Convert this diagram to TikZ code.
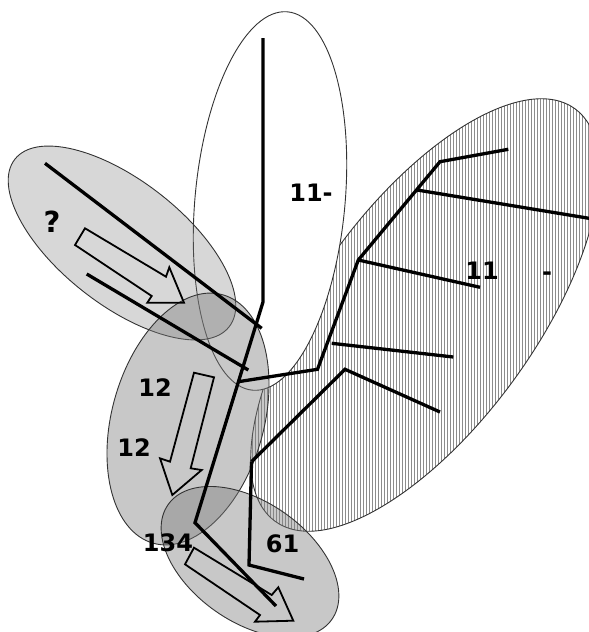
\documentclass[tikz,border=0pt]{standalone}
\usepackage{fontspec}
\setmainfont{DejaVu Sans}
\usetikzlibrary{patterns.meta, positioning}
\definecolor{shadeGray}{HTML}{7C7C7C}
\definecolor{hatchGray}{HTML}{8C8C8C}
\definecolor{rimGray}{HTML}{333333}

\begin{document}
\begin{tikzpicture}[
    x=1pt, y=-1pt,
    blob/.style={draw=rimGray, line width=0.9pt},
    shaded/.style={blob, fill=shadeGray, fill opacity=0.42},
    trail/.style={line width=3.3pt, black},
    hollow/.style={line width=1.8pt, black, line join=miter},
    tag/.style={font=\fontsize{24}{28}\selectfont\bfseries, inner sep=0pt}
  ]
  \clip (0,0) rectangle (589,632);

  % regions
  \draw[blob, pattern={Lines[angle=90, distance=3pt, line width=0.9pt]}, pattern color=hatchGray,
        rotate around={54:(425,315)}] (425,315) ellipse [x radius=255, y radius=110];
  \draw[blob, fill=white, rotate around={-5.3:(270,201)}] (270,201) ellipse [x radius=75, y radius=190];
  \draw[shaded, fill opacity=0.3, rotate around={-38:(122,243)}] (122,243) ellipse [x radius=136, y radius=62];
  \draw[shaded, rotate around={-15.6:(188,419)}] (188,419) ellipse [x radius=76, y radius=129];
  \draw[shaded, rotate around={-35:(250,562)}] (250,562) ellipse [x radius=100, y radius=60];

  % points of the lines
  \coordinate (stemTop) at (263,38);
  \coordinate (stemBend) at (263,302);
  \coordinate (trunkKnee) at (195,522.7);
  \coordinate (trunkEnd) at (276,606);
  \coordinate (askA) at (45,163.3);
  \coordinate (askAend) at (261.7,328.3);
  \coordinate (askB) at (86.7,274);
  \coordinate (askBend) at (248.3,370);
  \coordinate (spurStart) at (238.3,381.7);
  \coordinate (spurBend) at (317.5,369.3);
  \coordinate (ridgeLow) at (358.3,260);
  \coordinate (ridgeMid) at (417,190);
  \coordinate (ridgeTop) at (440,161.7);
  \coordinate (ridgeEnd) at (508.3,149.3);
  \coordinate (forkA) at (331.7,343.3);
  \coordinate (forkAend) at (453.3,357);
  \coordinate (forkBend) at (480,287.3);
  \coordinate (forkCend) at (589,218.3);
  \coordinate (hookStart) at (251.5,461.7);
  \coordinate (hookTop) at (345,369.3);
  \coordinate (hookEnd) at (440,412);
  \coordinate (dropEnd) at (249,565);
  \coordinate (dropTail) at (304,579);

  % lines
  \draw[trail] (stemTop) -- (stemBend) -- (trunkKnee) -- (trunkEnd);
  \draw[trail] (askA) -- (askAend);
  \draw[trail] (askB) -- (askBend);
  \draw[trail] (spurStart) -- (spurBend) -- (ridgeLow) -- (ridgeTop) -- (ridgeEnd);
  \draw[trail] (ridgeMid) -- (forkCend);
  \draw[trail] (ridgeLow) -- (forkBend);
  \draw[trail] (forkA) -- (forkAend);
  \draw[trail] (hookStart) -- (hookTop) -- (hookEnd);
  \draw[trail] (hookStart) -- (dropEnd) -- (dropTail);

  % block arrows
  \draw[hollow] (85,228.3) -- (166,276.7) -- (169.3,267.3) -- (184,302.7)
    -- (147.3,302.7) -- (151.7,296) -- (75,245) -- cycle;
  \draw[hollow] (194,372.7) -- (214,377.3) -- (190.7,468.3) -- (201.7,470)
    -- (172.3,495) -- (160,458.3) -- (170,461.7) -- cycle;
  \draw[hollow] (194,547.7) -- (271.7,595) -- (278.3,587.3) -- (293.3,620.7)
    -- (255,621.7) -- (260,615) -- (185,564.3) -- cycle;

  % labels
  \node[tag, font=\fontsize{29}{32}\selectfont\bfseries] (ask) at (52,222) {?};
  \node[tag] (upper) at (311,193) {11-};
  \node[tag] (side) at (482,271) {11};
  \node[tag, anchor=base] (dash) at (547,280.5) {-};
  \node[tag] (midA) at (155,388) {12};
  \node[tag] (midB) at (134,448) {12};
  \node[tag] (low) at (168,543) {134};
  \node[tag] (tail) at (282.5,544) {61};
\end{tikzpicture}
\end{document}
